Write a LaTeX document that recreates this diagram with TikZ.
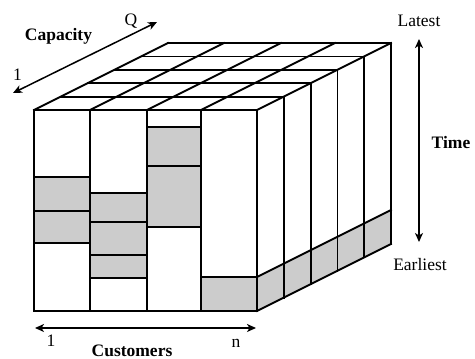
\documentclass[tikz,border=0pt]{standalone}
\usepackage{fontspec}
\setmainfont{Liberation Serif}
\usetikzlibrary{arrows.meta}
\begin{document}
\begin{tikzpicture}[x=1pt,y=-1pt,
  edge/.style={line width=1.8pt, line join=miter, line cap=rect},
  shaded/.style={fill=black!20},
  tip/.tip={Stealth[length=9pt,width=8pt,inset=2.5pt]},
  dblarrow/.style={line width=1.5pt, tip-tip},
  lbl/.style={font=\fontsize{17.5}{20}\selectfont, inner sep=0pt, anchor=base},
  blbl/.style={font=\fontsize{17.5}{20}\selectfont\bfseries, inner sep=0pt, anchor=base}]
\useasboundingbox (0,0) rectangle (475,359);

% ---- shaded cells on front face ----
\fill[shaded] (34,177) rectangle (90,243);
\fill[shaded] (90,193) rectangle (147,278);
\fill[shaded] (147,127) rectangle (201,227);
\fill[shaded] (201,277) rectangle (257,311);
% ---- shaded band on right face ----
\fill[shaded] (257,311) -- (391,244) -- (391,210) -- (257,277) -- cycle;

% ---- front face ----
\draw[edge] (34,110) rectangle (257,311);
\foreach \x in {90,147,201} \draw[edge] (\x,110) -- (\x,311);
% column 1
\draw[edge] (34,177) -- (90,177);
\draw[edge] (34,211) -- (90,211);
\draw[edge] (34,243) -- (90,243);
% column 2
\draw[edge] (90,193) -- (147,193);
\draw[edge] (90,222) -- (147,222);
\draw[edge] (90,255) -- (147,255);
\draw[edge] (90,278) -- (147,278);
% column 3
\draw[edge] (147,127) -- (201,127);
\draw[edge] (147,166) -- (201,166);
\draw[edge] (147,227) -- (201,227);
% column 4
\draw[edge] (201,277) -- (257,277);

% ---- top face ----
\foreach \k in {1,...,5}
  \draw[edge] ({34+26.8*\k},{110-13.4*\k}) -- ({257+26.8*\k},{110-13.4*\k});
\foreach \x in {34,90,147,201,257}
  \draw[edge] (\x,110) -- (\x+134,43);

% ---- right face ----
\foreach \k in {1,...,5}
  \draw[edge] ({257+26.8*\k},{110-13.4*\k}) -- ({257+26.8*\k},{311-13.4*\k});
\draw[edge] (257,311) -- (391,244);
\draw[edge] (257,277) -- (391,210);

% ---- axes ----
\coordinate (capA) at (13,93);
\coordinate (capB) at (157,22);
\draw[dblarrow] (capA) -- (capB);
\node[lbl] (qlab) at (131,25) {Q};
\node[lbl] (onecap) at (17.5,80) {1};
\node[blbl] (caplab) at (58.5,40.5) {Capacity};

\coordinate (timeA) at (419,39);
\coordinate (timeB) at (419,242);
\draw[dblarrow] (timeA) -- (timeB);
\node[lbl] (latest) at (419,26) {Latest};
\node[blbl] (timelab) at (451,148) {Time};
\node[lbl] (earliest) at (420,270) {Earliest};

\coordinate (custA) at (35,328);
\coordinate (custB) at (256,328);
\draw[dblarrow] (custA) -- (custB);
\node[lbl] (onecust) at (51,346) {1};
\node[lbl] (nlab) at (236,347) {n};
\node[blbl] (custlab) at (132,356.5) {Customers};
\end{tikzpicture}
\end{document}
